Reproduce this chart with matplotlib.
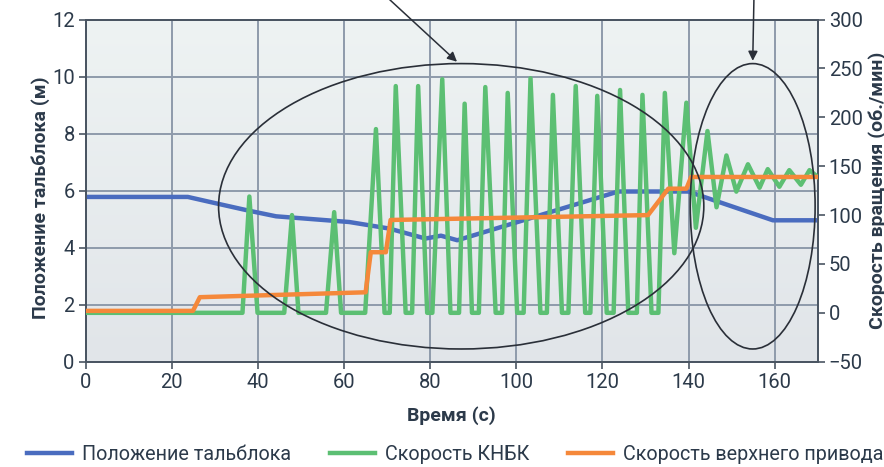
import numpy as np
import matplotlib
matplotlib.use("Agg")
import matplotlib.pyplot as plt
from matplotlib.patches import Ellipse

# block position (m)
block_t = [0, 23.7, 30.7, 38.1, 44.2, 61.2, 70.5, 78.9, 82.5, 86.3, 123.7, 139.9, 159.6, 170]
block_pos = [5.78, 5.78, 5.54, 5.29, 5.10, 4.90, 4.67, 4.32, 4.42, 4.26, 5.97, 5.97, 4.96, 4.96]

# downhole motor speed (rpm)
bha_t = [0, 36.4, 38.0, 39.9, 46.1, 47.9, 49.4, 55.8, 57.7, 59.3, 64.9, 67.4, 69.4, 70.6,
         72.0, 74.3, 75.8, 77.2, 79.3, 80.5, 82.8, 84.7, 86.7, 88.0, 89.7, 91.3,
         92.8, 95.2, 96.7, 98.0, 100.2, 101.7, 103.3, 105.6, 107.1, 108.5, 110.6, 112.1,
         113.8, 116.0, 117.2, 118.8, 121.0, 122.6, 124.1, 126.0, 128.0, 129.3, 131.4, 133.0,
         134.5, 136.7, 139.5, 141.7, 144.4, 146.5, 148.8, 151.1, 153.8, 156.5, 158.4,
         161.1, 163.4, 166.1, 168.1, 170]
bha_rpm = [0, 0, 119, 0, 0, 100, 0, 0, 103, 0, 0, 188, 0, 0,
           232, 0, 0, 232, 0, 0, 239, 0, 0, 214, 0, 0,
           231, 0, 0, 225, 0, 0, 240, 0, 0, 223, 0, 0,
           232, 0, 0, 222, 0, 0, 228, 0, 0, 223, 0, 0,
           225, 61, 215, 87, 186, 108, 161, 124, 152, 128, 147,
           129, 146, 131, 146, 139]

# top drive speed (rpm)
td_t = [0, 24.9, 26.5, 65.0, 66.2, 69.7, 70.8, 130.6, 135.3, 139.5, 140.6, 170]
td_rpm = [2, 2, 16, 21, 62, 62, 95, 100, 127, 127, 139, 139]

ink = "#2c3a4a"
blue = "#4a6cbf"
green = "#5cbf73"
orange = "#f5883a"

plt.rcParams["font.family"] = ["Roboto", "DejaVu Sans"]
plt.rcParams["text.color"] = ink
plt.rcParams["axes.labelcolor"] = ink
plt.rcParams["xtick.color"] = "#4a5562"
plt.rcParams["ytick.color"] = "#4a5562"
plt.rcParams["xtick.labelcolor"] = ink
plt.rcParams["ytick.labelcolor"] = ink

fig = plt.figure(figsize=(8.84, 4.67), dpi=100)
ax = fig.add_axes([0.097, 0.2255, 0.828, 0.7325])
ax2 = ax.twinx()

# soft vertical gradient behind the plot
grad = np.linspace(0, 1, 256).reshape(-1, 1)
cmap = matplotlib.colors.LinearSegmentedColormap.from_list("bg", ["#eef3f3", "#e1e5e9"])
ax.imshow(grad, cmap=cmap, extent=[0, 170, 0, 12], aspect="auto", zorder=0)

ax.set_xlim(0, 170)
ax.set_ylim(0, 12)
ax2.set_ylim(-50, 300)
ax.set_xticks(range(0, 161, 20))
ax.set_yticks(range(0, 13, 2))
ax2.set_yticks(range(-50, 301, 50))
ax.grid(True, color="#8e9aab", lw=1.4, zorder=1)
ax.set_axisbelow(True)

ax.plot(block_t, block_pos, color=blue, lw=3.2, zorder=3, label="Положение тальблока")
ax2.plot(bha_t, bha_rpm, color=green, lw=3.2, zorder=3, label="Скорость КНБК")
ax2.plot(td_t, td_rpm, color=orange, lw=3.2, zorder=4, label="Скорость верхнего привода")

for a in (ax, ax2):
    for s in a.spines.values():
        s.set_color("#4a5562")
        s.set_linewidth(1.3)
    a.tick_params(labelsize=14.5, length=5, width=1.2, pad=3)

ax.set_xlabel("Время (с)", fontsize=14, fontweight="bold")
ax.xaxis.set_label_coords(0.5, -0.13)
ax.set_ylabel("Положение тальблока (м)", fontsize=14, fontweight="bold")
ax.yaxis.set_label_coords(-0.049, 0.48)
ax2.set_ylabel("Скорость вращения (об./мин)", fontsize=14, fontweight="bold")
ax2.yaxis.set_label_coords(1.069, 0.5)

# highlighted regions with pointers from above
for cx, w in [(87.2, 112.7), (154.9, 29.0)]:
    ax2.add_patch(Ellipse((cx, 109), w, 292, fill=False, ec="#2a2f38", lw=1.2, zorder=5))
ax2.annotate("", xy=(86.7, 255), xycoords="data", xytext=(385 / 884, 1.01),
             textcoords="figure fraction", annotation_clip=False,
             arrowprops=dict(arrowstyle="-|>", color="#2a2f38", lw=1.1, mutation_scale=14))
ax2.annotate("", xy=(154.9, 255), xycoords="data", xytext=(754 / 884, 1.01),
             textcoords="figure fraction", annotation_clip=False,
             arrowprops=dict(arrowstyle="-|>", color="#2a2f38", lw=1.1, mutation_scale=14))

h1, l1 = ax.get_legend_handles_labels()
h2, l2 = ax2.get_legend_handles_labels()
fig.legend(h1 + h2, l1 + l2, loc="center", bbox_to_anchor=(0.515, 0.026), ncol=3,
           frameon=False, fontsize=14.2, handlelength=2.25, columnspacing=2.0, handletextpad=0.5)

fig.savefig("out.png", dpi=100)
